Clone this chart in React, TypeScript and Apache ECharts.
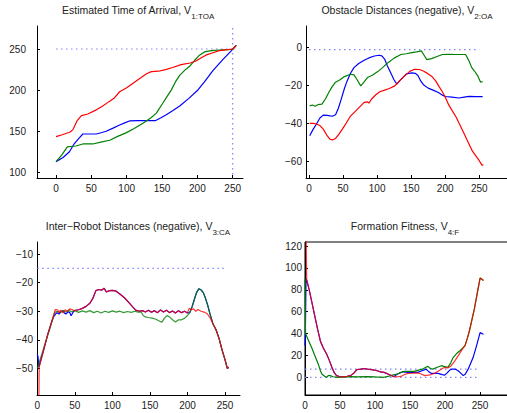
import React, { useEffect, useRef } from "react";
import * as echarts from "echarts";

// ---------- data ----------
const xTicks = [0, 50, 100, 150, 200, 250];
const yTicksTOA = [100, 150, 200, 250];
const yTicksOA = [-60, -40, -20, 0];
const yTicksCA = [-50, -40, -30, -20, -10];
const yTicksF = [0, 20, 40, 60, 80, 100, 120];

const titles = [
  "Estimated Time of Arrival, V{sub|1:TOA}",
  "Obstacle Distances (negative), V{sub|2:OA}",
  "Inter\u2212Robot Distances (negative), V{sub|3:CA}",
  "Formation Fitness, V{sub|4:F}",
];

// V1: TOA
const toaRed = [[0,143.4],[10,146],[20,149],[24,152],[30,163],[36,169],[45,171],[57,176],[65,180],[75,186],[82,190],[90,198],[100,203],[110,209],[120,215],[128,220],[135,222.5],[145,223],[155,225],[165,227.5],[177,231],[190,233],[198,235.4],[205,239],[212,242.5],[222,245.5],[231,248],[240,249],[250,250],[255,254.5]];
const toaGreen = [[0,113],[8,121],[16,131],[28,132],[38,134.5],[52,134.5],[65,137],[76,139],[88,144],[99,148],[110,153],[123,159.6],[134,166],[142,172],[151,184],[157,192],[163,200],[169,210],[175,218],[182,224],[189,229],[196,236],[203,242.5],[210,246.5],[220,248],[231,248.8],[250,249.6],[255,254.5]];
const toaBlue = [[0,113],[10,118],[19,125],[26,135],[32,141],[38,146.6],[57,146.6],[65,148.5],[71,150],[80,153.5],[90,157.6],[98,160.5],[104,162.5],[115,163],[130,162.8],[141,163],[148,166],[156,170],[165,175],[175,180.7],[188,190],[200,199.5],[210,210],[222,223.6],[236,237],[250,249.6],[255,254.5]];
const toaRefH = [[0,250],[250,250]];
const toaRefV = [[250,0],[250,300]];

// V2: OA
const oaGreen = [[1,-30.6],[5,-30.2],[9,-30.8],[13,-30],[19,-29.7],[24,-27],[29,-23.6],[34,-20.5],[39,-18.2],[45,-17],[51,-15.4],[61,-14],[66,-14.3],[70,-16.5],[76,-20.1],[81,-18],[86,-15.7],[93,-14.5],[101,-12.6],[108,-10.5],[116,-7.9],[125,-5.5],[135,-3.6],[143,-3.2],[151,-2.6],[158,-2.2],[165,-1.7],[169,-4],[173,-6.3],[180,-5.8],[187,-4.8],[196,-3.6],[205,-3.5],[215,-3.6],[225,-3.6],[230,-3.6],[235,-7],[239,-10.5],[243,-12.3],[248,-15],[252,-18.2],[255,-17.8]];
const oaBlue = [[1,-46.4],[6,-43],[11,-40.2],[16,-37],[21,-35.5],[27,-35.6],[31,-35.9],[35,-36],[39,-35.3],[43,-32],[47,-27.5],[52,-21.5],[56,-17.5],[61,-13.5],[66,-10.5],[73,-8.3],[81,-6.6],[88,-5.4],[96,-4.4],[103,-4],[107,-4.3],[111,-6],[115,-9.5],[121,-14],[125,-17],[129,-19.2],[133,-17.5],[138,-15.6],[143,-13.8],[151,-13.3],[156,-13.5],[160,-14.6],[164,-17.5],[168,-19.5],[175,-21.3],[183,-22.5],[190,-23.6],[196,-25],[200,-25.7],[210,-26],[220,-26.5],[228,-26],[235,-25.6],[245,-25.8],[255,-25.8]];
const oaRed = [[1,-39.9],[6,-39.8],[11,-40.2],[16,-41],[21,-42.9],[26,-46],[31,-48.3],[35,-48.5],[39,-47.8],[44,-45.5],[49,-42.9],[55,-39.5],[61,-36],[68,-33.5],[76,-30.6],[81,-28.8],[86,-28.5],[88,-29.2],[92,-27],[98,-24.8],[104,-23.2],[110,-22.5],[118,-21.5],[126,-20.1],[133,-17.5],[140,-15],[148,-12.5],[155,-11.4],[162,-11.5],[168,-12.3],[175,-13.8],[180,-15],[186,-17.5],[191,-20.5],[195,-22.7],[200,-26],[205,-30],[210,-33],[216,-36.5],[222,-41],[228,-45.5],[234,-50],[240,-54.5],[246,-57.5],[250,-59.5],[254,-61.8],[256,-61.7]];
const oaRef = [[0,-1],[250,-1]];

// V3: CA
const caRed = [[2,-65],[2.5,-49.6],[8,-44],[14,-38],[20,-33],[24,-29.4],[27,-29.5],[29,-30.5],[31,-29.6],[34,-30.6],[37,-29.5],[40,-30],[43,-29.2],[46,-29.4],[49,-29.8],[55,-29.5],[60,-29],[65,-28.3],[70,-27.2],[74,-25.5],[78,-22.8],[82,-22.4],[86,-22.6],[89,-22],[92,-23.3],[96,-22.8],[100,-22.7],[105,-23],[110,-24],[116,-25.3],[122,-27],[127,-28.5],[131,-29.6],[136,-30],[140,-29.8],[144,-30.3],[148,-29.7],[152,-30.4],[156,-29.8],[160,-30.5],[164,-29.6],[168,-30.3],[172,-29.7],[176,-30.5],[180,-29.9],[184,-30.6],[188,-29.8],[192,-30.5],[196,-30],[200,-30.6],[202,-29],[205,-29.5],[208,-29.2],[211,-30],[214,-29.4],[218,-30],[222,-30.3],[226,-30.8],[230,-32.3],[234,-34.5],[238,-36.5],[242,-39.5],[246,-43.5],[250,-47],[253,-50],[255,-49.6]];
const caBlueHead = [[0,-45],[1,-46],[2,-49.6],[8,-44],[14,-38],[20,-33],[22.5,-31.6],[26,-30.5],[29,-31],[31,-30.3],[34,-29.8],[36,-30.6],[38,-31],[41,-30.2],[43,-30.4],[45,-31.6],[47,-30.6],[49.5,-29.8]];
const caGreen = [[0,-50],[6,-45],[12,-40],[18,-35],[23,-30.5],[26,-30],[30,-30.5],[34,-29.8],[38,-30.3],[42,-29.7],[46,-30.2],[50,-29.8],[55,-30.4],[60,-29.9],[65,-30.3],[70,-29.8],[75,-30.5],[80,-30],[85,-30.6],[90,-30],[95,-30.4],[100,-29.9],[105,-30.3],[110,-30],[115,-30.5],[120,-30.1],[125,-30.4],[130,-30],[134,-30.3],[138,-30.2],[141,-31.5],[144,-32],[148,-32.2],[153,-32.4],[158,-32.8],[163,-33.5],[166,-33.8],[169,-32.5],[173,-31.5],[176,-32],[180,-33],[184,-33.8],[188,-33],[192,-33],[196,-32.5],[200,-31.5],[203,-30.5],[206,-28.5],[209,-26],[212,-23.5],[215,-22.2],[218,-22.5],[221,-23.5],[224,-25.5],[227,-28],[230,-31],[234,-34.5],[238,-36.5],[242,-39.5],[246,-43.5],[250,-47],[253,-50],[255,-49.6]];
const caRef = [[0,-15],[250,-15]];

// V4: F
const fRed = [[1.5,135],[2.4,89],[6,80],[10,68],[14,56],[18,44],[22,33],[26,27],[31,21],[35,15],[38.5,9],[42,4],[45,1.5],[50,0.5],[55,0.3],[60,0.8],[65,1.5],[70,4],[74,7],[80,7.5],[85,8],[89,7.5],[95,7],[103,6],[108,5],[113,4.5],[120,2.5],[127,0.6],[133,0.5],[137,0.8],[142,2.5],[147,3.6],[155,3.8],[161,4],[166,3],[171,1.5],[176,2],[180,2.5],[185,3.6],[190,5.5],[195,7.5],[199,9],[204,8.5],[208,10],[214,15],[220,21],[225,26],[228.5,29],[232,36],[235,43],[238,51.5],[242,63],[246,77],[250,90.7],[252,90],[254.8,88.5]];
const fBlueHead = [[0,29],[0.5,40],[1.5,90]];
const fBlueTail = [[132,3],[140,5],[147,4.5],[155,4.5],[161,4.5],[167,6],[173,7.5],[177,5],[180,3.6],[190,3.6],[196,2.5],[199.5,2],[203,4],[206.7,6.6],[210,7.5],[214,7.5],[218.7,6],[222,4],[226,1.5],[229,3],[233,7.5],[236,12],[240,18],[245,29],[250,40.8],[254.8,39.3]];
const fGreen = [[0,90],[0.3,60],[0.8,40],[4,35],[9.6,27],[14,20],[19,12],[22,6],[24,3],[28,1],[31,0],[33,1.5],[36,1.5],[40,0.5],[45.7,0],[55,0.3],[65,0.6],[75,0.4],[89,0.6],[100,0.3],[113,0],[120,1],[128,2.5],[132,3],[137,4.5],[141.8,5.4],[150,5.4],[156,5.4],[162,6.5],[168,7.5],[172,9],[175.5,10],[179,8],[182.7,7.5],[188,9],[194.7,10.6],[198,10],[204,9],[208,13],[211.5,18],[217,22],[223.6,25.7],[228.5,29],[232,36],[235,43],[238,51.5],[242,63],[246,77],[250,90.7],[252,90],[254.8,88.5]];
const fRefLow = [[0,0],[250,0]];
const fRefHigh = [[0,7.5],[250,7.5]];

// ---------- styling ----------
const FONT = '"Liberation Sans", Arial, Helvetica, sans-serif';
const BLUE = "#0000ff";
const GREEN = "#008000";
const RED = "#ff0000";
const REF = "#8080ff";

const grids = [
  { left: 37, top: 26, width: 206, height: 152 },
  { left: 306, top: 26, width: 215, height: 152 },
  { left: 37, top: 242, width: 203, height: 153 },
  { left: 305, top: 242, width: 215, height: 153, show: true, borderColor: "#000", borderWidth: 1 },
];
const xRanges = [[-26.9, 264.6], [-4.4, 311.3], [-0.4, 269.9], [0, 307]];
const yRanges = [[93.1, 278], [-68.6, 11.4], [-59.3, -5.8], [-16.2, 123.7]];
const yTicks = [yTicksTOA, yTicksOA, yTicksCA, yTicksF];
const yLabelMargin = [11, 4, 4, 3];
const titlePos = [[138, 4], [407, 4], [138, 220], [405, 220]];

const minusFmt = (v: number) => String(v).replace("-", "\u2212");

function line(gi: number, data: number[][], color: string, opacity = 1) {
  return {
    type: "line",
    xAxisIndex: gi,
    yAxisIndex: gi,
    data,
    showSymbol: false,
    symbol: "none",
    smooth: false,
    lineStyle: { color, width: 1.2, opacity },
    silent: true,
    z: 3,
  };
}
function ref(gi: number, data: number[][]) {
  return {
    type: "line",
    xAxisIndex: gi,
    yAxisIndex: gi,
    data,
    showSymbol: false,
    symbol: "none",
    lineStyle: { color: REF, width: 1.2, type: [1.5, 3.5] },
    silent: true,
    z: 2,
  };
}

export default function App() {
  const ref0 = useRef<HTMLDivElement>(null);
  useEffect(() => {
    document.body.style.margin = "0";
    const chart = echarts.init(ref0.current!, null, { renderer: "svg" });

    const caBlue = [
      ...caBlueHead,
      ...caRed.filter((p) => p[0] > 50 && p[0] <= 200),
      ...caGreen.filter((p) => p[0] > 200),
    ];
    const fBlue = [...fBlueHead, ...fRed.filter((p) => p[0] > 2 && p[0] < 130), ...fBlueTail];

    const axisText = { fontFamily: FONT, fontSize: 10, color: "#222", formatter: minusFmt };
    const xAxis = grids.map((_, i) => ({
      gridIndex: i,
      type: "value",
      min: xRanges[i][0],
      max: xRanges[i][1],
      axisLine: { show: true, onZero: false, lineStyle: { color: "#000", width: 1 } },
      axisTick: { show: true, inside: true, length: 3, customValues: xTicks, lineStyle: { color: "#000" } },
      axisLabel: { ...axisText, margin: 5, customValues: xTicks },
      splitLine: { show: false },
    }));
    const yAxis = grids.map((_, i) => ({
      gridIndex: i,
      type: "value",
      min: yRanges[i][0],
      max: yRanges[i][1],
      axisLine: { show: true, onZero: false, lineStyle: { color: "#000", width: 1 } },
      axisTick: { show: true, inside: true, length: 3, customValues: yTicks[i], lineStyle: { color: "#000" } },
      axisLabel: { ...axisText, margin: yLabelMargin[i], customValues: yTicks[i] },
      splitLine: { show: false },
    }));

    const graphic = titles.map((t, i) => ({
      type: "text",
      x: titlePos[i][0],
      y: titlePos[i][1],
      silent: true,
      style: {
        text: t,
        align: "center",
        verticalAlign: "top",
        fontFamily: FONT,
        fontSize: 10.5,
        lineHeight: 12,
        fill: "#222",
        rich: {
          sub: { fontFamily: FONT, fontSize: 8, lineHeight: 9, verticalAlign: "top", padding: [8, 0, 0, 0], fill: "#222" },
        },
      },
    }));

    chart.setOption({
      animation: false,
      backgroundColor: "#fff",
      grid: grids.map((g) => ({ outerBoundsMode: "none", containLabel: false, show: false, ...g })),
      xAxis,
      yAxis,
      graphic,
      series: [
        ref(0, toaRefH),
        ref(0, toaRefV),
        line(0, toaBlue, BLUE),
        line(0, toaGreen, GREEN),
        line(0, toaRed, RED),
        ref(1, oaRef),
        line(1, oaBlue, BLUE),
        line(1, oaGreen, GREEN),
        line(1, oaRed, RED),
        ref(2, caRef),
        line(2, caBlue, BLUE),
        line(2, caGreen, GREEN, 0.8),
        line(2, caRed, RED, 0.8),
        ref(3, fRefLow),
        ref(3, fRefHigh),
        line(3, fBlue, BLUE),
        line(3, fGreen, GREEN),
        line(3, fRed, RED, 0.8),
      ],
    });
    return () => chart.dispose();
  }, []);
  return <div ref={ref0} style={{ position: "absolute", left: 0, top: 0, width: 507, height: 413 }} />;
}
